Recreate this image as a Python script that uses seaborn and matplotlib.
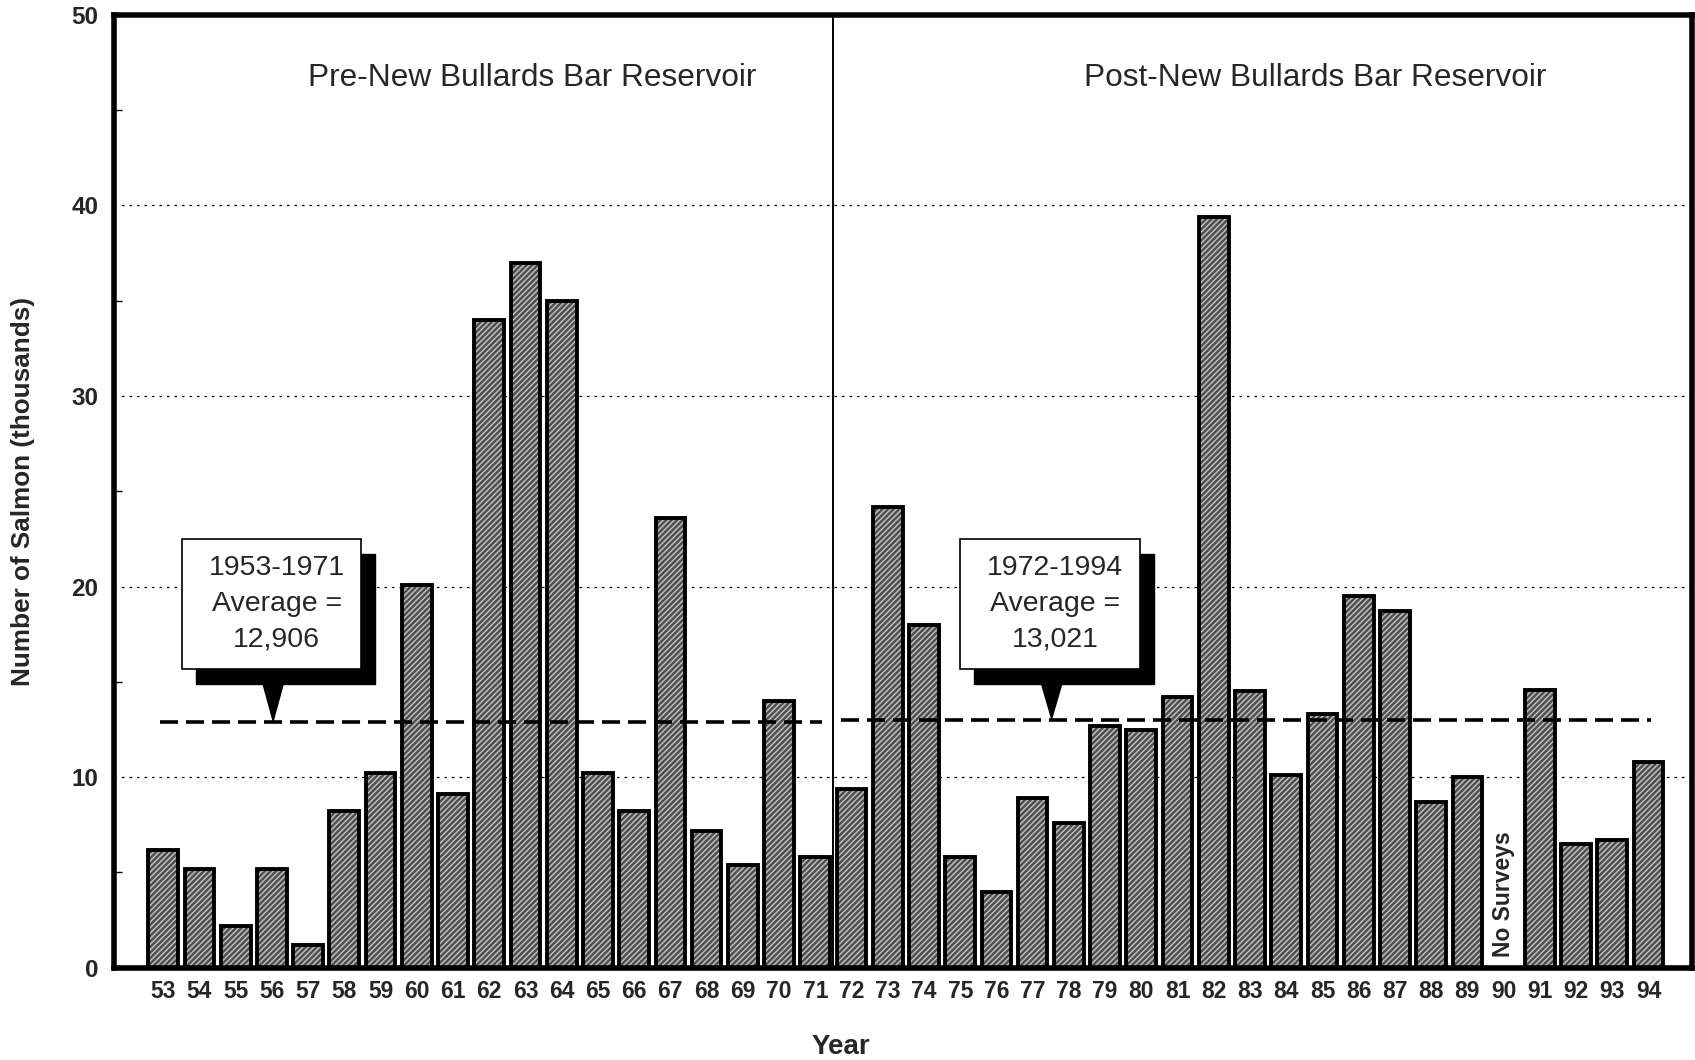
import numpy as np
import pandas as pd
import matplotlib
matplotlib.use("Agg")
import matplotlib.pyplot as plt
import seaborn as sns
from matplotlib.patches import Rectangle, Polygon

# ---- data (thousands of salmon; 1990 = no surveys) ----
years = ["53", "54", "55", "56", "57", "58", "59", "60", "61", "62", "63", "64", "65", "66",
         "67", "68", "69", "70", "71", "72", "73", "74", "75", "76", "77", "78", "79", "80",
         "81", "82", "83", "84", "85", "86", "87", "88", "89", "90", "91", "92", "93", "94"]
counts = [6.2, 5.2, 2.2, 5.2, 1.2, 8.2, 10.2, 20.1, 9.1, 34.0, 37.0, 35.0, 10.2, 8.2,
          23.6, 7.2, 5.4, 14.0, 5.8, 9.4, 24.2, 18.0, 5.8, 4.0, 8.9, 7.6, 12.7, 12.5,
          14.2, 39.4, 14.5, 10.1, 13.3, 19.5, 18.7, 8.7, 10.0, np.nan, 14.6, 6.5, 6.7, 10.8]
periods = ["Pre-New Bullards Bar Reservoir", "Post-New Bullards Bar Reservoir"]
period_ranges = ["1953-1971", "1972-1994"]
period_avgs = [12.906, 13.021]
split_year = "72"
no_survey_year = "90"

df = pd.DataFrame({"year": years, "count": counts})

sns.set_theme(style="white")
plt.rcParams.update({"font.family": ["Liberation Sans", "DejaVu Sans"],
                     "hatch.linewidth": 1.1})

fig = plt.figure(figsize=(16.95, 10.6), dpi=100)
ax = fig.add_axes([0.067, 0.087, 0.931, 0.899])

# textured bars, then heavy black outlines on top
sns.barplot(data=df, x="year", y="count", order=years, ax=ax, color="#4e4e4e",
            edgecolor="#bdbdbd", linewidth=0, hatch="//////", width=0.82, saturation=1)
sns.barplot(data=df, x="year", y="count", order=years, ax=ax, fill=False,
            color="black", linewidth=2.8, width=0.82)

xlo, xhi = -1.37, len(years) - 1 + 1.19
ax.set_xlim(xlo, xhi)
ax.set_ylim(0, 50)
split = years.index(split_year) - 0.5
ax.axvline(split, color="black", lw=1.4, zorder=1)

# grid + ticks
for y in (10, 20, 30, 40):
    ax.axhline(y, color="black", lw=0.9, ls=(0, (2, 4)), zorder=0)
ax.set_yticks([0, 10, 20, 30, 40, 50])
ax.set_yticks([5, 15, 25, 35, 45], minor=True)
ax.tick_params(axis="y", which="minor", direction="in", length=6, width=1, left=True, color="black")
ax.tick_params(axis="y", which="major", length=0, labelsize=17.5, pad=11)
ax.tick_params(axis="x", length=0, labelsize=16.5, pad=9)
for t in ax.get_xticklabels() + ax.get_yticklabels():
    t.set_fontweight("bold")
for s in ax.spines.values():
    s.set_linewidth(4)
    s.set_color("black")

ax.set_xlabel("Year", fontsize=20, fontweight="bold")
ax.xaxis.set_label_coords(0.461, -0.07)
ax.set_ylabel("Number of Salmon (thousands)", fontsize=18.8, fontweight="bold")
ax.yaxis.set_label_coords(-0.05, 0.5)

# period titles and average lines
bounds = [(-0.09, split - 0.32), (split + 0.22, len(years) - 1 + 0.07)]
title_x = [10.18, 31.8]
box_x = [0.51, 22.0]
for k in range(2):
    ax.text(title_x[k], 46.7, periods[k], ha="center", va="center", fontsize=22.8)
    x0, x1 = bounds[k]
    ax.plot([x0, x1], [period_avgs[k]] * 2, color="black", lw=2.6, ls=(0, (5, 2.2)), zorder=4)

    # callout: shadow, white box, pointer
    bx, bw, btop, bbot = box_x[k], 4.95, 22.5, 15.7
    ax.add_patch(Rectangle((bx + 0.39, bbot - 0.8), bw, btop - bbot, facecolor="black",
                           edgecolor="black", zorder=5))
    ax.add_patch(Rectangle((bx, bbot), bw, btop - bbot, facecolor="white",
                           edgecolor="black", lw=1.2, zorder=6))
    tip = bx + bw / 2 + 0.05
    ax.add_patch(Polygon([(tip - 0.28, bbot - 0.8), (tip + 0.28, bbot - 0.8),
                          (tip, period_avgs[k] + 0.05)], closed=True,
                         facecolor="black", edgecolor="black", zorder=5))
    ax.text(bx + bw / 2 + 0.15, (btop + bbot) / 2,
            f"{period_ranges[k]}\nAverage =\n{period_avgs[k] * 1000:,.0f}",
            ha="center", va="center", fontsize=20.5, linespacing=1.5, zorder=7)

ax.text(years.index(no_survey_year), 0.55, "No Surveys", rotation=90, ha="center",
        va="bottom", fontsize=16.5, fontweight="bold")

fig.savefig("out.png", dpi=100)
